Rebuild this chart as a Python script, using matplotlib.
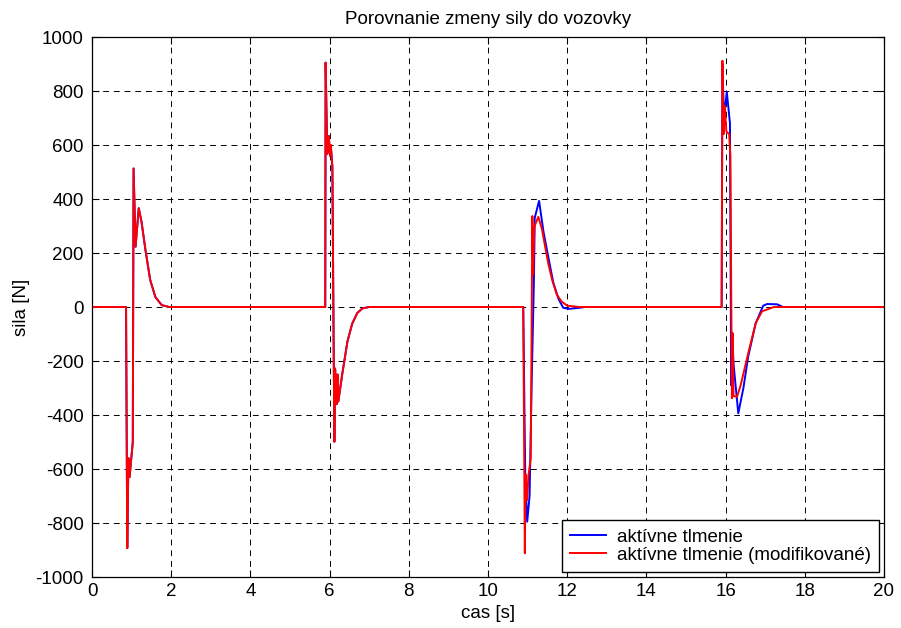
import matplotlib
matplotlib.use("Agg")
import matplotlib.pyplot as plt

plt.rcParams['font.family'] = ['Liberation Sans', 'DejaVu Sans']
plt.rcParams['axes.unicode_minus'] = False

title = "Porovnanie zmeny sily do vozovky"
xlabel = "cas [s]"
ylabel = "sila [N]"
labels = ["aktívne tlmenie", "aktívne tlmenie (modifikované)"]

xticks = [0, 2, 4, 6, 8, 10, 12, 14, 16, 18, 20]
yticks = [-1000, -800, -600, -400, -200, 0, 200, 400, 600, 800, 1000]

# aktívne tlmenie (blue)
t_blue = [0, 0.86, 0.89, 0.92, 0.95, 0.98, 1.03, 1.05, 1.10, 1.18, 1.25, 1.35, 1.47, 1.60, 1.76, 1.95,
          5.89, 5.90, 5.94, 5.98, 6.01, 6.03, 6.07, 6.12, 6.14, 6.18, 6.20, 6.22, 6.32, 6.45, 6.57, 6.70, 6.83, 7.0,
          10.89, 10.94, 10.99, 11.05, 11.10, 11.16, 11.18, 11.29, 11.40, 11.52, 11.65, 11.78, 11.90, 12.05, 12.30, 12.45,
          15.90, 15.92, 15.96, 16.03, 16.11, 16.14, 16.17, 16.20, 16.32, 16.45, 16.57, 16.76, 16.95, 17.05, 17.30, 17.45,
          20.0]
y_blue = [0, 0, -893, -560, -630, -580, -500, 513, 223, 366, 316, 211, 100, 37, 7, 0,
          0, 905, 567, 633, 560, 600, 520, -499, -228, -360, -250, -350, -248, -128, -62, -22, -5, 0,
          0, -620, -795, -700, -300, 100, 330, 393, 280, 187, 90, 30, -3, -7, -3, 0,
          0, 900, 700, 797, 681, -290, -100, -210, -394, -300, -184, -60, 5, 11, 10, 0,
          0]

# aktívne tlmenie (modifikované) (red)
t_red = [0, 0.86, 0.89, 0.92, 0.95, 0.98, 1.03, 1.05, 1.10, 1.18, 1.25, 1.35, 1.47, 1.60, 1.76, 1.95,
         5.89, 5.90, 5.94, 5.98, 6.01, 6.03, 6.07, 6.12, 6.14, 6.18, 6.20, 6.22, 6.32, 6.45, 6.57, 6.70, 6.83, 7.0,
         10.89, 10.93, 10.95, 10.99, 11.02, 11.08, 11.12, 11.14, 11.17, 11.27, 11.36, 11.52, 11.62, 11.74, 11.86, 12.0, 12.3,
         15.90, 15.92, 15.95, 15.98, 16.02, 16.09, 16.12, 16.16, 16.18, 16.20, 16.29, 16.38, 16.59, 16.76, 16.92, 17.22,
         20.0]
y_red = [0, 0, -893, -560, -630, -580, -500, 513, 223, 366, 316, 211, 100, 37, 7, 0,
         0, 905, 567, 633, 560, 600, 520, -499, -228, -360, -250, -350, -248, -128, -62, -22, -5, 0,
         0, -912, -620, -715, -625, -560, 337, 120, 297, 334, 290, 162, 100, 45, 20, 5, 0,
         0, 912, 640, 745, 650, 640, 560, -338, -97, -330, -332, -290, -160, -60, -16, 0,
         0]

fig = plt.figure(figsize=(9.01, 6.28), dpi=100)
ax = fig.add_axes([92 / 901, 1 - 577 / 628, (884 - 92) / 901, (577 - 37) / 628])

ax.plot(t_blue, y_blue, color=(0, 0, 1), lw=1.4, label=labels[0])
ax.plot(t_red, y_red, color=(1, 0, 0), lw=1.4, label=labels[1])

ax.set_xlim(0, 20)
ax.set_ylim(-1000, 1000)
ax.set_xticks(xticks)
ax.set_yticks(yticks)
ax.tick_params(direction='in', top=True, right=True, length=5, width=0.8, labelsize=13.5)
ax.tick_params(axis='x', pad=4)
ax.tick_params(axis='y', pad=6)
ax.grid(True, color='black', linestyle=(0, (6, 5)), linewidth=0.7)
for s in ax.spines.values():
    s.set_linewidth(0.9)

ax.set_title(title, fontsize=13.5, pad=9)
ax.set_xlabel(xlabel, fontsize=13.5, labelpad=4)
ax.set_ylabel(ylabel, fontsize=13.5, labelpad=4)

leg = ax.legend(loc='lower right', fontsize=13.5, fancybox=False, framealpha=1,
                edgecolor='black', borderaxespad=0.25, handlelength=1.9,
                handletextpad=0.6, labelspacing=0.05, borderpad=0.45)
leg.get_frame().set_linewidth(1.0)

fig.savefig("out.png", dpi=100)
